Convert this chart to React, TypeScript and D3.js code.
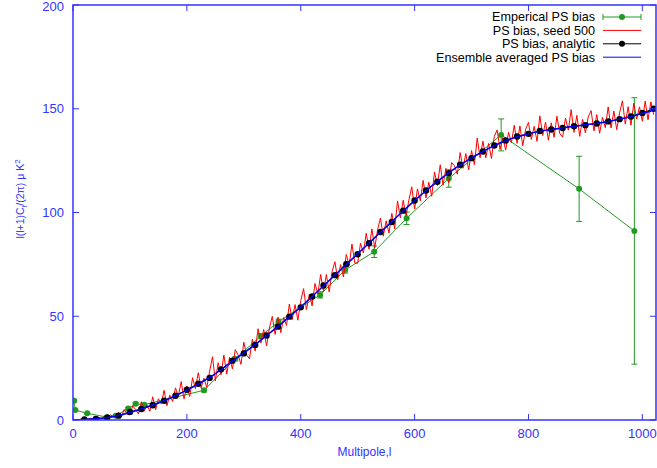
import * as d3 from 'd3';

// multipole of every tabulated point
const ellStep = 20;
const ensembleL = d3.range(0, 1021, ellStep).concat([1024]);
const ensembleBias = [
  0, 0.3, 0.6, 1.2, 2.2, 3.6, 5.3, 7.2, 9.3, 11.7, 14.4, 17.3, 20.5, 24.3, 28.4, 32.3,
  36.4, 40.7, 45.1, 49.7, 54.5, 59.5, 64.6, 69.8, 75.0, 80.1, 85.3, 90.5, 95.6, 100.7,
  105.7, 110.5, 115.0, 119.1, 122.9, 126.3, 129.4, 132.2, 134.6, 136.5, 137.9, 139.1,
  140.0, 140.8, 141.6, 142.3, 143.0, 143.9, 145.0, 146.3, 147.8, 149.6, 150.4,
];

const analyticL = d3.range(20, 1021, ellStep);
const analyticBias = [
  0.3, 0.5, 1.1, 2.1, 3.9, 5.3, 7.1, 9.3, 11.7, 14.6, 17.5, 20.3, 24.4, 28.6, 32.1,
  36.2, 40.7, 45.0, 49.8, 54.3, 59.5, 64.8, 69.8, 75.1, 79.9, 85.2, 90.6, 95.4, 100.9,
  105.8, 110.6, 114.8, 119.0, 123.0, 126.2, 129.4, 132.3, 134.7, 136.6, 137.9, 139.3,
  140.0, 140.7, 141.6, 142.1, 142.9, 143.9, 145.0, 146.3, 148.0, 150.0,
];

// single realisation, sampled every 5 multipoles
const seedL = d3.range(0, 1021, 5);
const seedBias = [
  0, 0.2, 0.1, 0.5, 0.6, 0.2, 0.85, 0.4, 0.3, 1.35, 0.7, 1.85, 0.6, 2.45, 1.9, 1.25,
  3.7, 1.55, 5.1, 2.75, 2.4, 6.8, 4.95, 2.9, 8.8, 4.3, 7.25, 4.2, 11.2, 4.9, 10.25, 7.8,
  14.3, 6.9, 12.0, 8.9, 15.5, 11.4, 18.5, 10.2, 16.4, 11.3, 20.4, 15.1, 22.8, 15.5, 20.1, 15.7,
  23.5, 30.5, 18.9, 27.6, 21.8, 31.3, 22.1, 30.2, 24.6, 33.9, 31.4, 26.8, 37.5, 31.3, 29.5, 38.9,
  33.2, 44.0, 37.1, 43.6, 35.7, 44.3, 49.9, 41.2, 49.6, 42.1, 49.4, 45.6, 55.9, 48.4, 55.6, 48.1,
  57.5, 63.3, 53.2, 60.5, 55.0, 65.8, 60.9, 70.1, 61.8, 70.1, 61.7, 71.5, 76.3, 67.6, 74.9, 68.9,
  79.8, 74.5, 84.8, 75.6, 75.6, 85.2, 80.5, 90.0, 82.3, 92.1, 82.9, 91.7, 97.3, 88.6, 96.0, 90.1,
  99.6, 92.1, 105.6, 97.4, 105.9, 98.4, 106.0, 112.4, 101.7, 111.4, 105.6, 115.5, 107.0, 114.6, 107.8, 119.4,
  113.0, 123.0, 113.1, 121.3, 114.3, 124.1, 122.5, 118.5, 128.9, 121.3, 128.4, 120.5, 129.8, 123.1, 135.9, 126.4,
  134.4, 126.3, 133.3, 126.0, 136.7, 139.8, 130.4, 136.0, 130.1, 138.6, 133.6, 142.0, 133.3, 141.7, 132.2, 140.1,
  143.4, 135.2, 141.5, 134.3, 146.6, 137.1, 143.6, 134.8, 143.2, 136.2, 146.4, 138.1, 136.3, 145.5, 139.7, 149.6,
  138.6, 146.8, 136.7, 144.9, 138.3, 146.0, 149.1, 139.3, 147.2, 138.2, 145.9, 140.9, 150.9, 140.7, 148.9, 139.9,
  148.0, 153.8, 142.6, 151.0, 142.1, 152.7, 145.0, 150.9, 144.0, 153.7, 144.7, 153.3, 147.1,
];

// binned empirical estimate with 1-sigma errors
const empiricalL = [2, 4, 25, 60, 75, 97, 110, 125, 230, 285, 330, 361, 434, 478, 529, 586, 660, 752, 889, 986];
const empiricalBias = [9.3, 4.8, 3.2, 1.4, 2.0, 5.6, 7.8, 7.4, 14.3, 29.5, 40.5, 47.4, 60.3, 72.3, 81.1, 97.2, 116.4, 137.4, 111.4, 91.1];
const empiricalErr = [0.5, 0.5, 0.4, 0.3, 0.3, 0.5, 0.6, 0.6, 0.8, 1.0, 1.2, 1.2, 1.5, 1.5, 2.8, 3.0, 4.2, 7.7, 15.7, 64.2];

const xTicks = [0, 200, 400, 600, 800, 1000];
const yTicks = [0, 50, 100, 150, 200];

const W = 657;
const H = 468;
const left = 73;
const right = 656;
const top = 5;
const bottom = 420;

const axisBlue = '#3333ff';
const green = '#229922';
const font = "'Liberation Sans', Arial, sans-serif";

export default function App() {
  const x = d3.scaleLinear().domain([0, 1024]).range([left, right]);
  const y = d3.scaleLinear().domain([0, 200]).range([bottom, top]);

  const line = d3
    .line<[number, number]>()
    .x((d) => x(d[0]))
    .y((d) => y(d[1]));

  const ensemble = d3.zip(ensembleL, ensembleBias) as [number, number][];
  const analytic = d3.zip(analyticL, analyticBias) as [number, number][];
  const seed = d3.zip(seedL, seedBias) as [number, number][];
  const empirical = d3.zip(empiricalL, empiricalBias) as [number, number][];

  const legend = [
    { label: 'Emperical PS bias', color: green, dot: true, bars: true },
    { label: 'PS bias, seed 500', color: '#ff0000', dot: false, bars: false },
    { label: 'PS bias, analytic', color: '#000000', dot: true, bars: false },
    { label: 'Ensemble averaged PS bias', color: '#0000ff', dot: false, bars: false },
  ];

  return (
    <div style={{ position: 'fixed', left: 0, top: 0, width: W, height: H, background: '#fff' }}>
      <svg width={W} height={H} fontFamily={font}>
        <defs>
          <clipPath id="plot">
            <rect x={left} y={top} width={right - left} height={bottom - top} />
          </clipPath>
        </defs>

        <g clipPath="url(#plot)">
          {/* empirical estimate */}
          <path d={line(empirical) ?? ''} fill="none" stroke={green} strokeWidth={1} />
          {empirical.map((d, i) => {
            const cx = x(d[0]);
            const y0 = y(d[1] - empiricalErr[i]);
            const y1 = y(d[1] + empiricalErr[i]);
            return (
              <g key={i} stroke={green} strokeWidth={1}>
                <line x1={cx} x2={cx} y1={y0} y2={y1} />
                <line x1={cx - 3} x2={cx + 3} y1={y0} y2={y0} />
                <line x1={cx - 3} x2={cx + 3} y1={y1} y2={y1} />
                <circle cx={cx} cy={y(d[1])} r={3} fill={green} stroke="none" />
              </g>
            );
          })}

          {/* one seed */}
          <path d={line(seed) ?? ''} fill="none" stroke="#ff0000" strokeWidth={1} />

          {/* analytic */}
          <path d={line(analytic) ?? ''} fill="none" stroke="#000" strokeWidth={1} />
          {analytic.map((d, i) => (
            <circle key={i} cx={x(d[0])} cy={y(d[1])} r={3.2} fill="#000" />
          ))}

          {/* ensemble average */}
          <path
            d={d3.line<[number, number]>().x((d) => x(d[0])).y((d) => y(d[1])).curve(d3.curveMonotoneX)(ensemble) ?? ''}
            fill="none"
            stroke="#0000ff"
            strokeWidth={1.5}
          />
        </g>

        {/* frame and ticks */}
        <rect x={left} y={top} width={right - left} height={bottom - top} fill="none" stroke={axisBlue} strokeWidth={1.5} />
        {xTicks.map((t) => (
          <g key={t}>
            <line x1={x(t)} x2={x(t)} y1={bottom} y2={bottom - 6} stroke={axisBlue} />
            <line x1={x(t)} x2={x(t)} y1={top} y2={top + 6} stroke={axisBlue} />
            <text x={x(t)} y={438} textAnchor="middle" fontSize={13} fill={axisBlue}>
              {t}
            </text>
          </g>
        ))}
        {yTicks.map((t) => (
          <g key={t}>
            <line x1={left} x2={left + 6} y1={y(t)} y2={y(t)} stroke={axisBlue} />
            <line x1={right} x2={right - 6} y1={y(t)} y2={y(t)} stroke={axisBlue} />
            <text x={64} y={Math.max(y(t) + 4.5, 11)} textAnchor="end" fontSize={13} fill={axisBlue}>
              {t}
            </text>
          </g>
        ))}

        <text x={(left + right) / 2} y={456} textAnchor="middle" fontSize={12} fill={axisBlue}>
          Multipole,l
        </text>
        <text transform="translate(24,199) rotate(-90)" textAnchor="middle" fontSize={10.5} fill={axisBlue}>
          l(l+1)C
          <tspan dy={2.5} fontSize={7.5}>
            l
          </tspan>
          <tspan dy={-2.5}>/(2π) μ K</tspan>
          <tspan dy={-4.5} fontSize={8}>
            2
          </tspan>
        </text>

        {/* legend */}
        {legend.map((item, i) => {
          const cy = 17 + i * 13.4;
          return (
            <g key={item.label}>
              <text x={595} y={cy + 4.3} textAnchor="end" fontSize={12.6} fill="#000">
                {item.label}
              </text>
              <line x1={603} x2={641} y1={cy} y2={cy} stroke={item.color} strokeWidth={1} />
              {item.bars && (
                <g stroke={item.color}>
                  <line x1={603} x2={603} y1={cy - 3} y2={cy + 3} />
                  <line x1={641} x2={641} y1={cy - 3} y2={cy + 3} />
                </g>
              )}
              {item.dot && <circle cx={622} cy={cy} r={3} fill={item.color} />}
            </g>
          );
        })}
      </svg>
    </div>
  );
}
